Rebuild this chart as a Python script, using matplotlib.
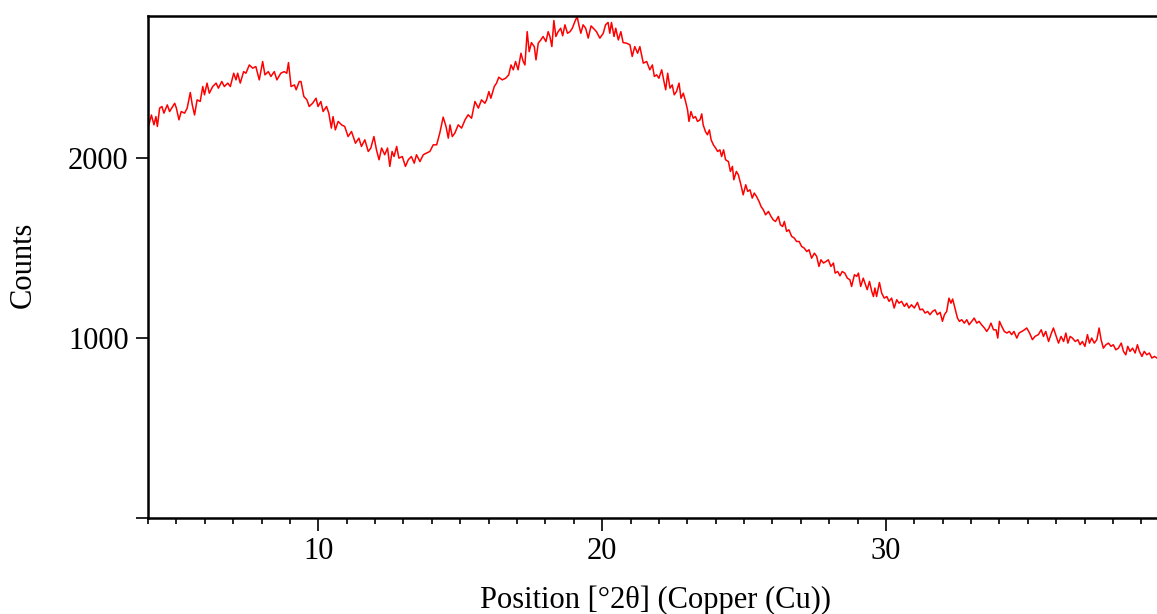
import matplotlib
matplotlib.use("Agg")
import matplotlib.pyplot as plt
from matplotlib.ticker import MultipleLocator, FixedLocator

plt.rcParams["font.family"] = ["Liberation Serif", "DejaVu Serif"]

# diffraction scan: position (deg 2theta) and counts
two_theta = [
    4.00, 4.12, 4.21, 4.28, 4.33, 4.41, 4.49, 4.56, 4.68, 4.76, 4.94, 5.00,
    5.09, 5.17, 5.29, 5.38, 5.49, 5.56, 5.64, 5.73, 5.84, 5.93, 5.99, 6.08,
    6.16, 6.28, 6.40, 6.48, 6.60, 6.69, 6.81, 6.90, 7.02, 7.10, 7.16, 7.25,
    7.37, 7.45, 7.57, 7.69, 7.80, 7.92, 8.04, 8.12, 8.24, 8.33, 8.45, 8.54,
    8.68, 8.80, 8.89, 8.95, 9.04, 9.16, 9.22, 9.33, 9.39, 9.49, 9.60, 9.68,
    9.80, 9.92,
    9.99, 10.09, 10.17, 10.29, 10.37, 10.46, 10.52, 10.60, 10.70, 10.82,
    10.93, 11.05, 11.17, 11.31, 11.43, 11.52, 11.64, 11.76, 11.85, 11.96,
    12.05, 12.14, 12.23, 12.34, 12.44, 12.52, 12.60, 12.67, 12.76, 12.84,
    12.96, 13.07, 13.17, 13.28, 13.38, 13.46, 13.58, 13.70, 13.81, 13.93,
    14.05, 14.17, 14.28, 14.40, 14.50, 14.58, 14.64, 14.72, 14.81, 14.93,
    15.05, 15.17, 15.28, 15.40, 15.52, 15.64, 15.75, 15.87,
    15.93, 16.01, 16.08, 16.20, 16.28, 16.36, 16.48, 16.60, 16.71, 16.79,
    16.87, 16.95, 17.04, 17.14, 17.22, 17.28, 17.36, 17.43, 17.51, 17.61,
    17.67, 17.75, 17.84, 17.92, 18.02, 18.10, 18.16, 18.23, 18.30, 18.37,
    18.45, 18.54, 18.61, 18.69, 18.78, 18.87, 18.95, 19.04, 19.12, 19.18,
    19.25, 19.33, 19.42, 19.51, 19.61, 19.69, 19.80, 19.92, 20.04, 20.12,
    20.21, 20.27, 20.33, 20.42, 20.48, 20.57, 20.66, 20.74, 20.86, 20.98,
    21.06, 21.15, 21.25, 21.33, 21.45, 21.57, 21.68, 21.77, 21.84,
    21.92, 22.00, 22.10, 22.19, 22.24, 22.31, 22.39, 22.47, 22.54, 22.62,
    22.71, 22.78, 22.86, 22.94, 23.01, 23.06, 23.13, 23.21, 23.29, 23.36,
    23.45, 23.51, 23.56, 23.64, 23.71, 23.78, 23.84, 23.92, 24.00, 24.07,
    24.15, 24.21, 24.28, 24.35, 24.45, 24.52, 24.59, 24.64, 24.73, 24.80,
    24.89, 24.97, 25.06, 25.13, 25.21, 25.29, 25.36, 25.44, 25.53, 25.60,
    25.68, 25.76, 25.86, 25.95, 26.03, 26.11, 26.21, 26.28, 26.36, 26.42,
    26.50, 26.58, 26.68, 26.77, 26.85, 26.94, 27.03, 27.12, 27.21, 27.29,
    27.38, 27.48, 27.56, 27.64, 27.71, 27.80,
    27.89, 27.97, 28.06, 28.15, 28.21, 28.30, 28.38, 28.46, 28.55, 28.64,
    28.73, 28.79, 28.89, 28.97, 29.03, 29.11, 29.20, 29.26, 29.34, 29.42,
    29.50, 29.56, 29.61, 29.67, 29.77, 29.85, 29.94, 30.03, 30.11, 30.20,
    30.29, 30.38, 30.46, 30.55, 30.65, 30.73, 30.81, 30.90, 31.00, 31.11,
    31.20, 31.29, 31.38, 31.47, 31.55, 31.64, 31.73, 31.81, 31.91, 31.99,
    32.06, 32.14, 32.22, 32.29, 32.35, 32.43, 32.52, 32.59, 32.67, 32.76,
    32.85, 32.93, 33.02, 33.11, 33.20, 33.28, 33.37, 33.47, 33.55, 33.63,
    33.70, 33.79,
    33.88, 33.94, 34.00, 34.08, 34.17, 34.26, 34.35, 34.43, 34.51, 34.61,
    34.69, 34.79, 34.88, 34.96, 35.06, 35.16, 35.25, 35.37, 35.47, 35.55,
    35.63, 35.73, 35.81, 35.90, 36.00, 36.08, 36.17, 36.26, 36.34, 36.41,
    36.49, 36.57, 36.67, 36.76, 36.84, 36.92, 37.01, 37.10, 37.17, 37.25,
    37.34, 37.43, 37.51, 37.58, 37.66, 37.75, 37.84, 37.93, 38.01, 38.10,
    38.19, 38.29, 38.37, 38.45, 38.52, 38.60, 38.69, 38.78, 38.86, 38.93,
    39.02, 39.10, 39.19, 39.28, 39.37, 39.46, 39.55,
]
counts = [
    2167, 2240, 2185, 2231, 2176, 2278, 2287, 2250, 2296, 2259, 2305, 2278,
    2213, 2259, 2250, 2278, 2365, 2296, 2240, 2324, 2315, 2398, 2352, 2417,
    2361, 2398, 2417, 2389, 2426, 2398, 2417, 2398, 2472, 2435, 2472, 2417,
    2481, 2472, 2518, 2500, 2509, 2435, 2537, 2463, 2481, 2454, 2481, 2435,
    2472, 2481, 2472, 2531, 2398, 2407, 2380, 2426, 2426, 2343, 2324, 2287,
    2305, 2333,
    2287, 2315, 2259, 2287, 2250, 2167, 2231, 2157, 2204, 2185,
    2176, 2120, 2148, 2083, 2111, 2065, 2102, 2037, 2056, 2120,
    2046, 1991, 2056, 2019, 2056, 1954, 2037, 2009, 2065, 2000,
    2009, 1954, 1991, 2009, 1972, 2019, 1981, 2019, 2028, 2037,
    2074, 2074, 2139, 2228, 2176, 2111, 2185, 2120, 2139, 2185,
    2167, 2213, 2241, 2222, 2315, 2278, 2324, 2305,
    2324, 2370, 2333, 2398, 2417, 2450, 2435, 2444, 2463, 2518,
    2491, 2537, 2491, 2583, 2537, 2518, 2703, 2592, 2642, 2620,
    2546, 2639, 2657, 2676, 2648, 2703, 2676, 2620, 2765, 2676,
    2703, 2722, 2680, 2741, 2694, 2703, 2722, 2759, 2787, 2741,
    2694, 2741, 2722, 2667, 2735, 2722, 2703, 2667, 2694, 2741,
    2754, 2694, 2754, 2676, 2722, 2657, 2703, 2642, 2639, 2630,
    2565, 2620, 2583, 2620, 2528, 2537, 2491, 2518, 2454,
    2463, 2444, 2491, 2417, 2380, 2472, 2389, 2407, 2352, 2370,
    2417, 2333, 2361, 2315, 2268, 2204, 2259, 2222, 2231, 2204,
    2213, 2246, 2185, 2148, 2130, 2157, 2102, 2074, 2056, 2037,
    2046, 2009, 2046, 1991, 1981, 1926, 1954, 1880, 1926, 1907,
    1852, 1796, 1852, 1815, 1824, 1778, 1806, 1787, 1759, 1731,
    1713, 1685, 1704, 1676, 1657, 1648, 1676, 1630, 1620, 1648,
    1593, 1602, 1565, 1556, 1537, 1537, 1509, 1500, 1481, 1491,
    1444, 1472, 1454, 1398, 1435, 1417,
    1426, 1435, 1398, 1417, 1361, 1370, 1346, 1370, 1361, 1333,
    1324, 1287, 1352, 1343, 1361, 1287, 1333, 1306, 1269, 1315,
    1259, 1231, 1278, 1231, 1309, 1250, 1222, 1231, 1204, 1222,
    1167, 1213, 1194, 1204, 1176, 1194, 1167, 1185, 1167, 1198,
    1157, 1161, 1139, 1148, 1130, 1148, 1157, 1130, 1143, 1093,
    1130, 1148, 1222, 1194, 1217, 1167, 1111, 1093, 1102, 1083,
    1102, 1074, 1093, 1111, 1083, 1093, 1074, 1056, 1037, 1056,
    1083, 1046,
    1046, 1000, 1093, 1065, 1037, 1028, 1037, 1019, 1037, 1000,
    1028, 1037, 1046, 1056, 1028, 991, 1009, 1019, 1046, 1009,
    1037, 981, 1019, 1056, 1009, 972, 1009, 981, 1028, 972,
    1009, 1000, 981, 991, 963, 981, 954, 1019, 972, 1000,
    972, 991, 1056, 991, 944, 963, 972, 954, 963, 935,
    944, 972, 926, 907, 954, 926, 944, 917, 963, 926,
    898, 926, 907, 917, 889, 898, 889,
]

y_ticks = [0, 1000, 2000]
y_tick_labels = ["", "1000", "2000"]
x_ticks = [10, 20, 30]


def main():
    fig = plt.figure(figsize=(11.57, 6.14), dpi=100)
    ax = fig.add_axes([148 / 1157, 96 / 614, 1 - 148 / 1157, 502 / 614])

    ax.plot(two_theta, counts, color="red", linewidth=1.1)

    ax.set_xlim(4.0, 39.55)
    ax.set_ylim(0, 2790)

    ax.xaxis.set_major_locator(FixedLocator(x_ticks))
    ax.xaxis.set_minor_locator(MultipleLocator(1))
    ax.set_yticks(y_ticks)
    ax.set_yticklabels(y_tick_labels)

    for side in ["left", "bottom", "top"]:
        ax.spines[side].set_linewidth(1.8)
    ax.spines["right"].set_visible(False)

    ax.tick_params(axis="both", which="major", direction="out", length=9,
                   width=1.2, labelsize=22, pad=5)
    ax.tick_params(axis="x", which="minor", direction="out", length=4,
                   width=1.2)
    ax.tick_params(axis="x", top=False, which="both")

    ax.set_xlabel("Position [°2θ] (Copper (Cu))", fontsize=22)
    ax.set_ylabel("Counts", fontsize=22)
    ax.xaxis.set_label_coords(0.5025, -0.134)
    ax.yaxis.set_label_coords(-0.109, 0.505)

    fig.savefig("out.png", dpi=100)


if __name__ == "__main__":
    main()
